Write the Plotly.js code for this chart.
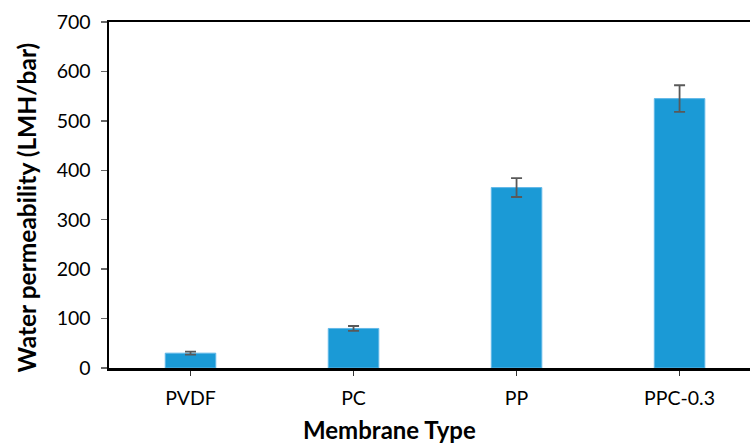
<!DOCTYPE html>
<html>
<head>
<meta charset="utf-8">
<script src="https://cdn.plot.ly/plotly-3.0.1.min.js"></script>
<style>html,body{margin:0;padding:0;background:#fff;}#chart{width:750px;height:443px;}</style>
</head>
<body>
<div id="chart"></div>
<script>
const categories = ["PVDF", "PC", "PP", "PPC-0.3"];
const permeability = [30, 80, 365, 545];
const errors = [3, 5, 19, 27];
const yTickVals = [0, 100, 200, 300, 400, 500, 600, 700];
const xTitle = "Membrane Type";
const yTitle = "Water permeability (LMH/bar)";

const font = "Lato, 'Open Sans', sans-serif";

const trace = {
  type: "bar",
  x: categories,
  y: permeability,
  width: 0.31,
  marker: { color: "#1b9ad6", line: { color: "#62b8e8", width: 1 } },
  error_y: { type: "data", array: errors, visible: true, color: "#595959", thickness: 1.8, width: 5.5 },
  hoverinfo: "none"
};

const layout = {
  width: 750, height: 443,
  margin: { l: 109, r: 0, t: 22, b: 75 },
  paper_bgcolor: "#fff", plot_bgcolor: "#fff",
  showlegend: false,
  font: { family: font, color: "#000", size: 19 },
  xaxis: {
    type: "category",
    range: [-0.5, 3.432],
    showline: true, linecolor: "#000", linewidth: 2.5, mirror: true,
    ticks: "outside", ticklen: 5, tickcolor: "#333", tickwidth: 1.5,
    showgrid: false, zeroline: false,
    tickfont: { family: font, size: 19.5, color: "#000" },
    ticklabelstandoff: 6
  },
  yaxis: {
    range: [0, 700],
    tickvals: yTickVals,
    showline: true, linecolor: "#000", linewidth: 2.5,
    ticks: "outside", ticklen: 6, tickcolor: "#666", tickwidth: 1.5,
    showgrid: false, zeroline: false,
    tickfont: { family: font, size: 19.5, color: "#000" },
    ticklabelstandoff: 6
  },
  annotations: [
    { text: "<b>" + xTitle + "</b>", xref: "paper", yref: "paper", x: (389 - 109) / 641, xanchor: "center", y: -(429 - 368) / 346, yanchor: "middle", showarrow: false, font: { family: font, size: 24, color: "#000" } },
    { text: "<b>" + yTitle + "</b>", xref: "paper", yref: "paper", x: 0, xshift: -83, xanchor: "center", y: (368 - 207.5) / 346, yanchor: "middle", textangle: -90, showarrow: false, font: { family: font, size: 24.5, color: "#000" } }
  ]
};

Plotly.newPlot("chart", [trace], layout, { staticPlot: true, displayModeBar: false });
</script>
</body>
</html>
